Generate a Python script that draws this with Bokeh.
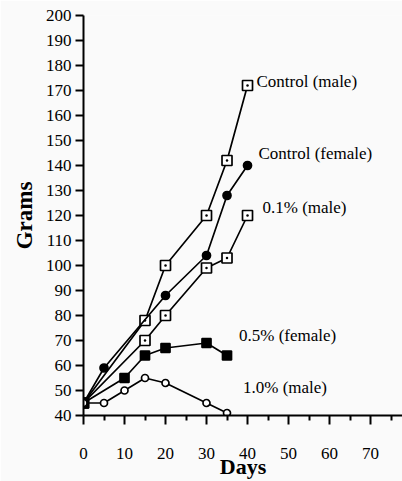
from bokeh.plotting import figure
from bokeh.models import Range1d, FixedTicker, ColumnDataSource
from bokeh.embed import file_html
from bokeh.resources import INLINE
from bokeh.core.properties import value

# ---- data ----
days_ctrl_m = [0, 15, 20, 30, 35, 40]
grams_ctrl_m = [45, 78, 100, 120, 142, 172]
days_ctrl_f = [0, 5, 20, 30, 35, 40]
grams_ctrl_f = [45, 59, 88, 104, 128, 140]
days_01_m = [0, 15, 20, 30, 35, 40]
grams_01_m = [45, 70, 80, 99, 103, 120]
days_05_f = [0, 10, 15, 20, 30, 35]
grams_05_f = [45, 55, 64, 67, 69, 64]
days_10_m = [0, 5, 10, 15, 20, 30, 35]
grams_10_m = [45, 45, 50, 55, 53, 45, 41]
series_labels = ["Control (male)", "Control (female)", "0.1% (male)",
                 "0.5% (female)", "1.0% (male)"]
x_ticks = [0, 10, 20, 30, 40, 50, 60, 70]
x_minor_ticks = [5, 15, 25, 35, 45, 55, 65, 75]
y_ticks = [40, 50, 60, 70, 80, 90, 100, 110, 120, 130, 140, 150, 160, 170,
           180, 190, 200]

FONT = "Liberation Serif"
BG = "#fafafa"

p = figure(width=402, height=481, output_backend="svg", toolbar_location=None,
           x_range=Range1d(0, 77.8), y_range=Range1d(40, 200),
           min_border_left=83, min_border_right=0, min_border_top=15,
           min_border_bottom=66)
p.background_fill_color = BG
p.border_fill_color = BG
p.outline_line_color = None
p.grid.visible = False

# axes
p.xaxis.ticker = FixedTicker(ticks=x_ticks, minor_ticks=x_minor_ticks)
p.yaxis.ticker = FixedTicker(ticks=y_ticks, minor_ticks=[])
for ax in (p.xaxis[0], p.yaxis[0]):
    ax.axis_line_width = 2
    ax.axis_line_color = "black"
    ax.major_tick_line_width = 2
    ax.major_tick_line_color = "black"
    ax.minor_tick_line_width = 2
    ax.minor_tick_line_color = "black"
    ax.major_tick_in = 0
    ax.minor_tick_in = 0
    ax.major_label_text_font = FONT
    ax.major_label_text_font_size = "17px"
    ax.major_label_text_color = "black"
    ax.axis_label_text_font = FONT
    ax.axis_label_text_font_style = "bold"
    ax.axis_label_text_font_size = "22px"
    ax.axis_label_text_color = "black"
p.xaxis.major_tick_out = 9
p.xaxis.minor_tick_out = 5
p.xaxis.major_label_standoff = 23
p.xaxis.axis_label = "Days"
p.xaxis.axis_label_standoff = -8
p.yaxis.major_tick_out = 8
p.yaxis.minor_tick_out = 0
p.yaxis.major_label_standoff = 4
p.yaxis.axis_label = "Grams"
p.yaxis.axis_label_text_font_size = "23px"
p.yaxis.axis_label_standoff = 6

# series
series = [
    (days_ctrl_m, grams_ctrl_m, "square_dot", "white", 10),
    (days_ctrl_f, grams_ctrl_f, "circle", "black", 8),
    (days_01_m, grams_01_m, "square_dot", "white", 10),
    (days_05_f, grams_05_f, "square", "black", 9),
    (days_10_m, grams_10_m, "circle", "white", 7),
]
for xs, ys, mk, fill, sz in series:
    p.line(xs, ys, line_color="black", line_width=1.7)
    p.scatter(xs, ys, marker=mk, size=sz, fill_color=fill,
              line_color="black", line_width=1.7)

# labels anchored at each series' last point
lab_src = ColumnDataSource(dict(
    x=[s[0][-1] for s in series],
    y=[s[1][-1] for s in series],
    text=series_labels,
    dx=[9, 11, 15, 12, 16],
    dy=[-4, -12, -8, -20, -26],
))
p.text(x="x", y="y", text="text", x_offset="dx", y_offset="dy", source=lab_src,
       text_font=value(FONT), text_font_size="17px", text_color="black",
       text_align="left", text_baseline="middle")

open("out.html", "w").write(file_html(p, INLINE))
